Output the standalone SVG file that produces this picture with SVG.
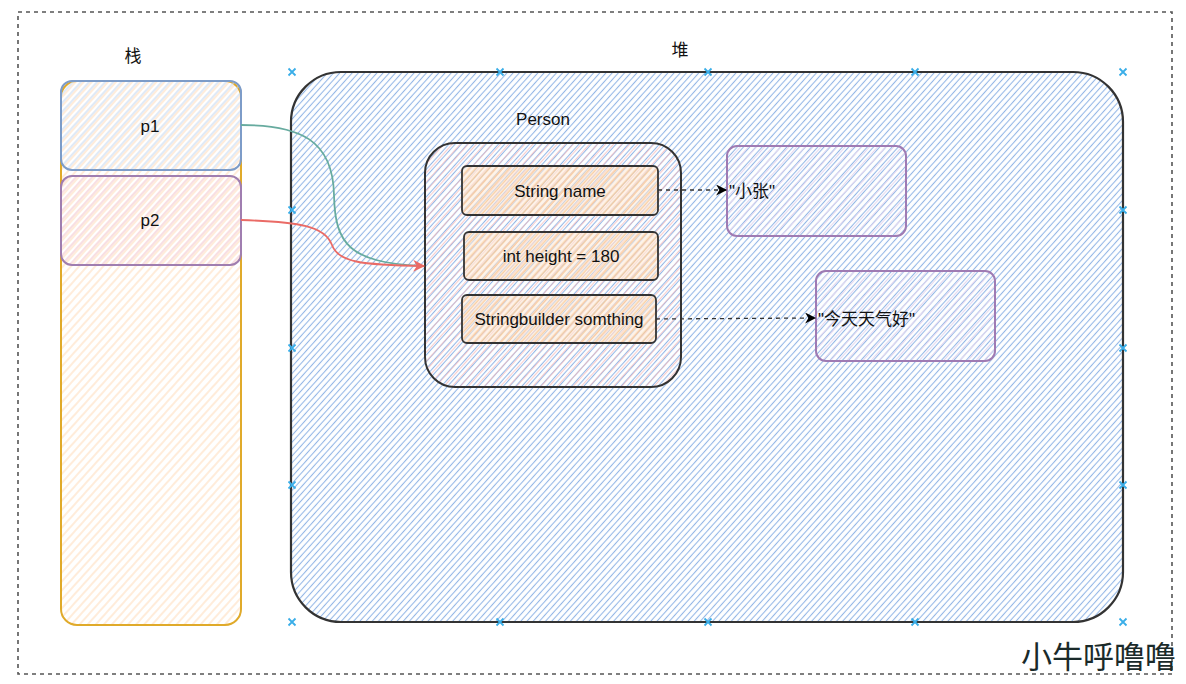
<svg xmlns="http://www.w3.org/2000/svg" width="1186" height="684" viewBox="0 0 1186 684">
<defs>
<pattern id="hBlue" width="4.6" height="4.6" patternUnits="userSpaceOnUse" patternTransform="rotate(-48)"><line x1="0" y1="2.3" x2="4.6" y2="2.3" stroke="#94b6e6" stroke-width="1.1"/></pattern>
<pattern id="hOrange" width="6" height="6" patternUnits="userSpaceOnUse" patternTransform="rotate(-48)"><line x1="0" y1="3" x2="6" y2="3" stroke="#ffdcbc" stroke-width="1.1"/></pattern>
<pattern id="hLtBlue" width="6" height="6" patternUnits="userSpaceOnUse" patternTransform="rotate(-48)"><line x1="0" y1="1" x2="6" y2="1" stroke="#c6d8f0" stroke-width="1.1"/></pattern>
<pattern id="hPink" width="6" height="6" patternUnits="userSpaceOnUse" patternTransform="rotate(-48)"><line x1="0" y1="1" x2="6" y2="1" stroke="#f3c4cc" stroke-width="1.1"/></pattern>
<pattern id="hRed" width="6" height="6" patternUnits="userSpaceOnUse" patternTransform="rotate(-48)"><line x1="0" y1="0.3" x2="6" y2="0.3" stroke="#f7b9b9" stroke-width="0.9"/></pattern>
<pattern id="hPeach" width="5" height="5" patternUnits="userSpaceOnUse" patternTransform="rotate(-48)"><rect width="5" height="5" fill="#fde9d6" fill-opacity="0.55"/><line x1="0" y1="1.2" x2="5" y2="1.2" stroke="#f9c590" stroke-width="1.1"/></pattern>
<pattern id="hLav" width="6" height="6" patternUnits="userSpaceOnUse" patternTransform="rotate(-48)"><line x1="0" y1="0.3" x2="6" y2="0.3" stroke="#e4d8ef" stroke-width="1.4"/></pattern>
<marker id="aBlack" viewBox="0 0 10 10" refX="9" refY="5" markerWidth="12" markerHeight="11" markerUnits="userSpaceOnUse" orient="auto"><path d="M0,0 L10,5 L0,10 L3,5 Z" fill="#000"/></marker>
<marker id="aRed" viewBox="0 0 10 10" refX="9" refY="5" markerWidth="14" markerHeight="12" markerUnits="userSpaceOnUse" orient="auto"><path d="M0,0 L10,5 L0,10 L3,5 Z" fill="#ea6b66"/></marker>
</defs>
<style>
text{font-family:"Liberation Sans","Noto Sans CJK SC",sans-serif;font-size:17px;fill:#111}
.c{text-anchor:middle}
.fld{stroke:#333;stroke-width:1.8}
.mk{stroke:#3aaee8;stroke-width:1.8;fill:none}
</style>
<rect width="1186" height="684" fill="#fff"/>
<rect id="frame" x="18" y="12" width="1154" height="662" fill="none" stroke="#555" stroke-width="1.6" stroke-dasharray="4 4"/>

<g id="stack">
<text class="c" x="133" y="62">栈</text>
<rect x="61" y="81" width="180" height="544" rx="16" fill="url(#hOrange)" stroke="#e0aa2a" stroke-width="2"/>
</g>
<g id="p1">
<rect x="61" y="81" width="180" height="89" rx="11" fill="url(#hLtBlue)" stroke="#7d9cc8" stroke-width="2"/>
<text class="c" x="150" y="132">p1</text>
</g>
<g id="p2">
<rect x="61" y="176" width="180" height="89" rx="11" fill="url(#hPink)" stroke="#a07eb0" stroke-width="2"/>
<text class="c" x="150" y="226">p2</text>
</g>

<g id="heap">
<text class="c" x="680" y="56">堆</text>
<rect x="291" y="72" width="832" height="550" rx="50" fill="url(#hBlue)" stroke="#333" stroke-width="2.2"/>
</g>
<g id="handles">
<path class="mk" d="M288.5,68.5l7,7m0,-7l-7,7 M496.5,68.5l7,7m0,-7l-7,7 M704.5,68.5l7,7m0,-7l-7,7 M911.5,68.5l7,7m0,-7l-7,7 M1119.5,68.5l7,7m0,-7l-7,7 M288.5,206.5l7,7m0,-7l-7,7 M288.5,344.5l7,7m0,-7l-7,7 M288.5,481.5l7,7m0,-7l-7,7 M288.5,618.5l7,7m0,-7l-7,7 M496.5,618.5l7,7m0,-7l-7,7 M704.5,618.5l7,7m0,-7l-7,7 M911.5,618.5l7,7m0,-7l-7,7 M1119.5,618.5l7,7m0,-7l-7,7 M1119.5,206.5l7,7m0,-7l-7,7 M1119.5,344.5l7,7m0,-7l-7,7 M1119.5,481.5l7,7m0,-7l-7,7"/>
</g>

<g id="person">
<text class="c" x="543" y="125">Person</text>
<rect x="425" y="143" width="256" height="244" rx="30" fill="url(#hRed)" stroke="#333" stroke-width="2"/>
</g>
<g id="f-name">
<rect class="fld" x="462" y="166" width="196" height="49" rx="5" fill="url(#hPeach)"/>
<text class="c" x="560" y="197">String name</text>
</g>
<g id="f-height">
<rect class="fld" x="464" y="232" width="194" height="48" rx="5" fill="url(#hPeach)"/>
<text class="c" x="561" y="262">int height = 180</text>
</g>
<g id="f-sb">
<rect class="fld" x="462" y="295" width="194" height="48" rx="5" fill="url(#hPeach)"/>
<text class="c" x="559" y="325">Stringbuilder somthing</text>
</g>

<g id="s-zhang">
<rect x="727" y="146" width="179" height="90" rx="10" fill="url(#hLav)" stroke="#9f7bb3" stroke-width="2"/>
<text x="729" y="197">"小张"</text>
</g>
<g id="s-weather">
<rect x="816" y="271" width="179" height="90" rx="10" fill="url(#hLav)" stroke="#9f7bb3" stroke-width="2"/>
<text x="818" y="325">"今天天气好"</text>
</g>

<g id="connectors" fill="none">
<path d="M241,125 C300,125 333,140 334,195 C335,245 350,262 420,266" stroke="#67ab9f" stroke-width="1.8"/>
<path d="M241,220 C300,222 325,226 332,245 C338,262 360,265 424,266" stroke="#ea6b66" stroke-width="1.8" marker-end="url(#aRed)"/>
<path d="M658,190 L726,190" stroke="#333" stroke-width="1.3" stroke-dasharray="4 4" marker-end="url(#aBlack)"/>
<path d="M656,319 L815,318" stroke="#333" stroke-width="1.3" stroke-dasharray="4 4" marker-end="url(#aBlack)"/>
</g>

<text x="1176" y="668" style="font-family:'Noto Sans CJK SC',serif;font-size:31px;fill:#1a2a2a;text-anchor:end">小牛呼噜噜</text>
</svg>
